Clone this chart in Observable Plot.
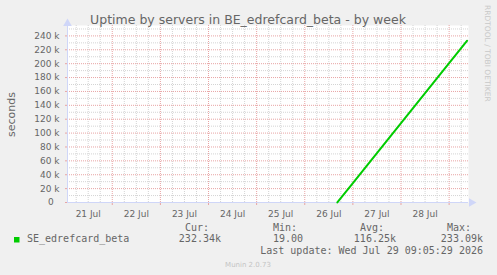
<!DOCTYPE html>
<html><head><meta charset="utf-8">
<script src="https://cdn.jsdelivr.net/npm/d3@7"></script>
<script src="https://cdn.jsdelivr.net/npm/@observablehq/plot@0.6"></script>
<style>
html,body{margin:0;padding:0;background:#f0f0f0;}
#chart{width:497px;height:275px;overflow:hidden;}
</style></head><body><div id="chart"></div>
<script>
const title = "Uptime by servers in BE_edrefcard_beta - by week";
const yLabel = "seconds";
const seriesName = "SE_edrefcard_beta";
const timeDomain = ["2026-07-21T01:40:00Z", "2026-07-29T09:40:00Z"];
const yDomain = [0, 255000];
const uptimeTimes = ["2026-07-26T16:15:00Z", "2026-07-27T00:00:00Z", "2026-07-27T12:00:00Z", "2026-07-28T00:00:00Z", "2026-07-28T12:00:00Z", "2026-07-29T00:00:00Z", "2026-07-29T09:00:00Z"];
const uptimeValues = [19, 27900, 71100, 114300, 157500, 200700, 233090];
const dayTickDates = ["2026-07-22", "2026-07-23", "2026-07-24", "2026-07-25", "2026-07-26", "2026-07-27", "2026-07-28", "2026-07-29"];
const dayLabelDates = ["2026-07-21T12:00:00Z", "2026-07-22T12:00:00Z", "2026-07-23T12:00:00Z", "2026-07-24T12:00:00Z", "2026-07-25T12:00:00Z", "2026-07-26T12:00:00Z", "2026-07-27T12:00:00Z", "2026-07-28T12:00:00Z"];
const yMajorTicks = [0, 20000, 40000, 60000, 80000, 100000, 120000, 140000, 160000, 180000, 200000, 220000, 240000];
const yMinorTicks = [10000, 30000, 50000, 70000, 90000, 110000, 130000, 150000, 170000, 190000, 210000, 230000, 250000];
const statLabels = ["Cur:", "Min:", "Avg:", "Max:"];
const statValues = ["232.34k", "19.00", "116.25k", "233.09k"];
const lastUpdate = "Last update: Wed Jul 29 09:05:29 2026";
const footer = "Munin 2.0.73";
const watermark = "RRDTOOL / TOBI OETIKER";

const parse = s => new Date(s);
const data = uptimeTimes.map((t, i) => ({time: parse(t), value: uptimeValues[i]}));
const xDom = timeDomain.map(parse);
const midnights = dayTickDates.map(d => parse(d + "T00:00:00Z"));
const noons = dayLabelDates.map(parse);
const minorX = d3.utcHour.every(6).range(xDom[0], xDom[1]).filter(d => d.getUTCHours() !== 0);

const GRID = "#d4d4d4", MGRID = "#e8a4a4", AXIS = "#cfd6f8", FONT = "#666666", GREEN = "#00cc00";

const chart = Plot.plot({
  width: 497, height: 275,
  marginLeft: 67, marginRight: 29, marginTop: 25, marginBottom: 73,
  style: {background: "#f0f0f0", fontFamily: "DejaVu Sans", fontSize: "9px", color: FONT},
  x: {type: "utc", domain: xDom},
  y: {domain: yDomain},
  marks: [
    Plot.frame({fill: "white", stroke: null}),
    Plot.ruleX(minorX, {stroke: GRID, strokeDasharray: "1,1"}),
    Plot.ruleY(yMinorTicks, {stroke: GRID, strokeDasharray: "1,1"}),
    Plot.ruleX(midnights, {stroke: MGRID, strokeDasharray: "1,1"}),
    Plot.ruleY(yMajorTicks.filter(v => v > 0), {stroke: MGRID, strokeDasharray: "1,1"}),
    Plot.axisY(yMajorTicks, {tickSize: 2, stroke: MGRID, tickPadding: 6, fill: FONT, fontSize: 9,
      tickFormat: d => d === 0 ? "0\u2007" : (d / 1000) + " k", label: null}),
    Plot.axisX(noons, {tickSize: 0, tickPadding: 8, fill: FONT, fontSize: 9, tickFormat: "%d %b", label: null}),
    Plot.axisX(midnights, {tickSize: 3, stroke: MGRID, tickFormat: () => "", label: null}),
    Plot.ruleY([0], {stroke: AXIS}),
    Plot.ruleX([xDom[0]], {stroke: AXIS}),
    Plot.dot([0], {x: () => xDom[1], y: () => 0, symbol: "triangle", rotate: 90, r: 3.2, fill: AXIS, stroke: null, dx: 3}),
    Plot.dot([0], {x: () => xDom[0], y: () => yDomain[1], symbol: "triangle", r: 3.2, fill: AXIS, stroke: null, dy: -2}),
    Plot.line(data, {x: "time", y: "value", stroke: GREEN, strokeWidth: 2})
  ]
});

const svg = d3.select(chart);
const add = (x, y, txt, opts = {}) => {
  const t = svg.append("text").attr("x", x).attr("y", y).text(txt)
    .attr("fill", opts.fill || FONT)
    .attr("font-family", opts.family || "DejaVu Sans")
    .attr("font-size", opts.size || 9)
    .attr("text-anchor", opts.anchor || "start");
  if (opts.transform) t.attr("transform", opts.transform);
  return t;
};
add(248, 24, title, {size: 12.5, anchor: "middle"});
add(0, 0, yLabel, {size: 11, anchor: "middle", transform: "translate(15,114.5) rotate(-90)"});
add(0, 0, watermark, {size: 7.5, fill: "#c8c8c8", transform: "translate(485,5) rotate(90)"});
svg.append("rect").attr("x", 14).attr("y", 237).attr("width", 5.5).attr("height", 5.5).attr("fill", GREEN);
const mono = {family: "DejaVu Sans Mono", size: 10};
add(27, 242.3, seriesName, mono);
const statX = [185, 273, 360, 447];
const valX = [221, 303, 396, 483];
statLabels.forEach((s, i) => add(statX[i], 231, s, mono));
statValues.forEach((s, i) => add(valX[i], 242.3, s, {...mono, anchor: "end"}));
add(483, 254, lastUpdate, {...mono, anchor: "end"});
add(248, 266.5, footer, {size: 7, fill: "#c4c4c4", anchor: "middle"});

document.getElementById("chart").appendChild(chart);
</script></body></html>
